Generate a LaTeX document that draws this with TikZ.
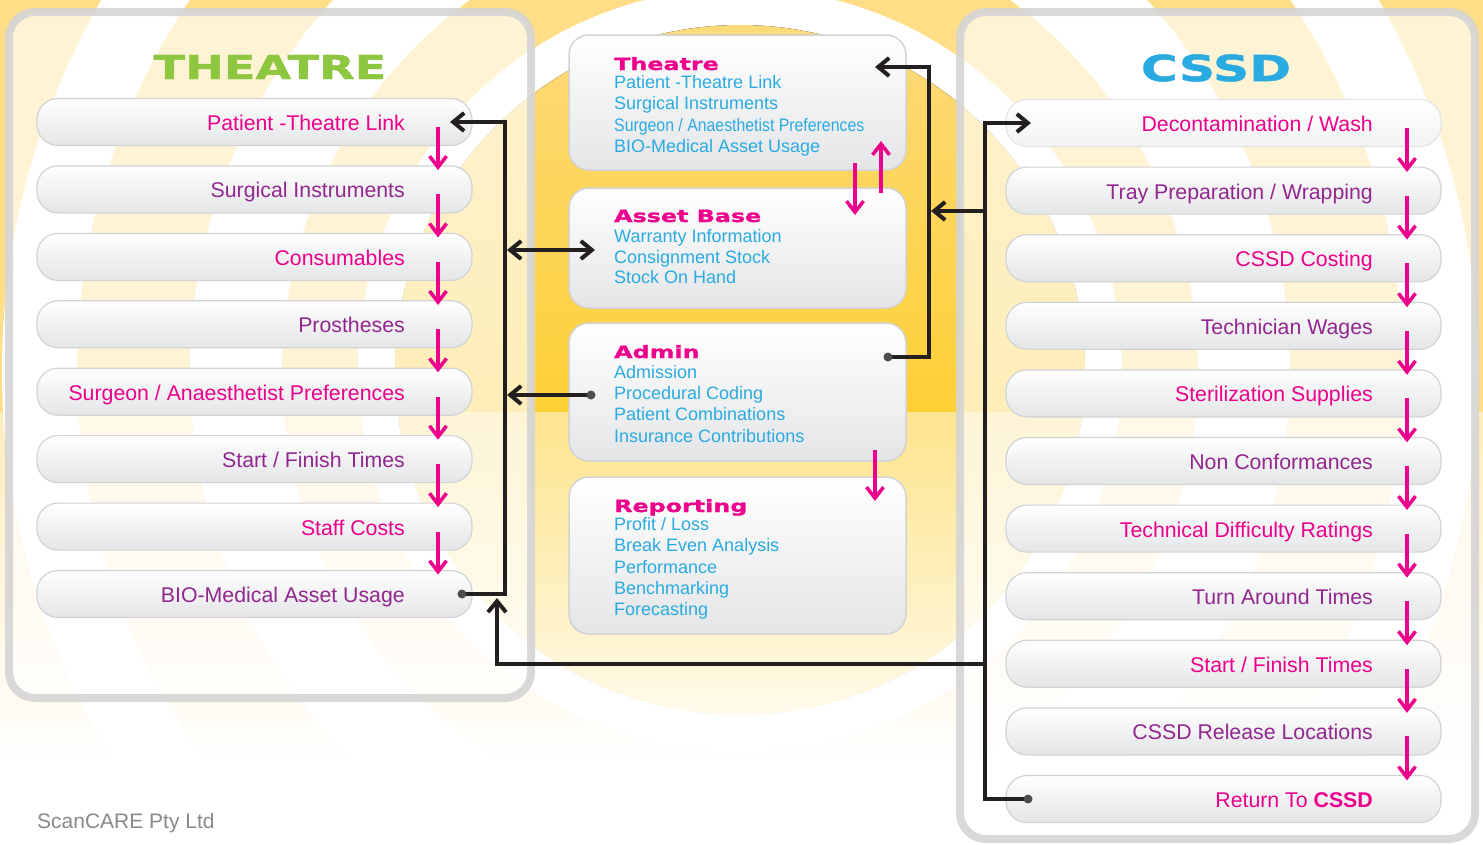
\documentclass[tikz,border=0pt]{standalone}
\usepackage{fontspec}
\setmainfont{Liberation Sans}
\newfontfamily\widefont[FakeStretch=1.4,FakeBold=1.2]{DejaVu Sans}
\usetikzlibrary{arrows.meta,fadings}
\definecolor{pinkc}{HTML}{EC008C}
\definecolor{purp}{HTML}{92278F}
\definecolor{cyanc}{HTML}{29ABE2}
\definecolor{greenc}{HTML}{8DC63F}
\definecolor{ringY}{HTML}{FFDE87}
\definecolor{goldT}{HTML}{FCDA7A}
\definecolor{goldM}{HTML}{FFCC12}
\definecolor{goldB}{HTML}{FFC800}
\definecolor{linec}{HTML}{231F20}
\definecolor{pillB}{HTML}{D1D3D4}
\definecolor{pillG}{HTML}{E4E5E7}
\definecolor{panelc}{HTML}{D5D5D5}
\definecolor{footc}{HTML}{8A8A8A}
\tikzfading[name=fadedown, top color=transparent!55, bottom color=transparent!0]
\newcommand\leftitem[4]{%
  \node[pill] (#1) at (254.5,#2) {};
  \node[itemtxt, text=#3] (#1t) at (405,#2+8.5) {#4};}
\newcommand\rightitem[4]{%
  \node[pill] (#1) at (1223.5,#2) {};
  \node[itemtxt, text=#3] (#1t) at (1373,#2+8.5) {#4};}
\newcommand\flowarrow[4]{%
  \coordinate (#1s) at (#2,#3);
  \coordinate (#1e) at (#2,#4);
  \draw[flow] (#1s) -- (#1e);}
\begin{document}
\begin{tikzpicture}[x=1pt,y=-1pt,
  pill/.style={draw=pillB, line width=1.2pt, rounded corners=21pt, minimum width=435pt, minimum height=47pt, top color=white, bottom color=pillG, inner sep=0pt},
  midbox/.style={draw=pillB, line width=1.5pt, rounded corners=20pt, minimum width=337pt, top color=white, bottom color=pillG, inner sep=0pt},
  panel/.style={draw=panelc, draw opacity=0.9, line width=8pt, fill=white, fill opacity=0.65, rounded corners=26pt},
  itemtxt/.style={anchor=base east, inner sep=0pt, font=\fontsize{21.3}{25}\selectfont},
  boxtitle/.style={anchor=base west, text=pinkc, inner sep=0pt, font=\widefont\bfseries\fontsize{17}{20}\selectfont},
  boxline/.style={anchor=base west, text=cyanc, inner sep=0pt, font=\fontsize{18}{21}\selectfont},
  flow/.style={draw=pinkc, line width=3.5pt, -{Straight Barb[length=11pt,width=17pt]}},
  conn/.style={draw=linec, line width=4pt},
  tipend/.style={-{Straight Barb[length=11pt,width=18pt]}},
  dot/.style={fill=linec!80!white},
  foottxt/.style={anchor=base west, inner sep=0pt, text=footc, font=\fontsize{21}{25}\selectfont}
]
\useasboundingbox (0,0) rectangle (1483,844);
\clip (0,0) rectangle (1483,844);
% ---------- background rings ----------
\fill[ringY] (-10,-10) rectangle (1493,854);
\coordinate (C) at (740,370);
\fill[white] (C) circle (738);
\fill[ringY] (C) circle (663);
\fill[white] (C) circle (550);
\fill[ringY] (C) circle (458);
\fill[white] (C) circle (382);
\fill[top color=goldT, middle color=goldM, bottom color=goldB] (C) circle (345);
\fill[white, path fading=fadedown] (-10,412) rectangle (1493,760);
\fill[white] (-10,759) rectangle (1493,870);
% ---------- panels ----------
\draw[panel] (9,12) rectangle (531,698);
\draw[panel] (960,12) rectangle (1475,839);
\node[font=\widefont\bfseries\fontsize{33}{36}\selectfont, text=greenc] (hTheatre) at (270,67) {THEATRE};
\node[font=\widefont\bfseries\fontsize{36}{40}\selectfont, text=cyanc] (hCSSD) at (1216,68) {CSSD};
% ---------- theatre list ----------
\leftitem{L1}{122}{pinkc}{Patient -Theatre Link}
\leftitem{L2}{189.4}{purp}{Surgical Instruments}
\leftitem{L3}{256.9}{pinkc}{Consumables}
\leftitem{L4}{324.3}{purp}{Prostheses}
\leftitem{L5}{391.7}{pinkc}{Surgeon / Anaesthetist Preferences}
\leftitem{L6}{459.1}{purp}{Start / Finish Times}
\leftitem{L7}{526.6}{pinkc}{Staff Costs}
\leftitem{L8}{594}{purp}{BIO-Medical Asset Usage}
\flowarrow{fa1}{438}{127}{170}
\flowarrow{fa2}{438}{194.4}{237.4}
\flowarrow{fa3}{438}{261.9}{304.9}
\flowarrow{fa4}{438}{329.3}{372.3}
\flowarrow{fa5}{438}{396.7}{439.7}
\flowarrow{fa6}{438}{464.1}{507.1}
\flowarrow{fa7}{438}{531.6}{574.6}
% ---------- CSSD list ----------
\node[pill, draw=pillB!60, bottom color=pillG!45] (R1) at (1223.5,123) {};
\node[itemtxt, text=pinkc] (R1t) at (1373,131.5) {Decontamination / Wash};
\rightitem{R2}{190.6}{purp}{Tray Preparation / Wrapping}
\rightitem{R3}{258.2}{pinkc}{CSSD Costing}
\rightitem{R4}{325.8}{purp}{Technician Wages}
\rightitem{R5}{393.4}{pinkc}{Sterilization Supplies}
\rightitem{R6}{461}{purp}{Non Conformances}
\rightitem{R7}{528.6}{pinkc}{Technical Difficulty Ratings}
\rightitem{R8}{596.2}{purp}{Turn Around Times}
\rightitem{R9}{663.8}{pinkc}{Start / Finish Times}
\rightitem{R10}{731.4}{purp}{CSSD Release Locations}
\rightitem{R11}{799}{pinkc}{Return To \textbf{CSSD}}
\flowarrow{fb1}{1407}{128}{172}
\flowarrow{fb2}{1407}{195.6}{239.6}
\flowarrow{fb3}{1407}{263.2}{307.2}
\flowarrow{fb4}{1407}{330.8}{374.8}
\flowarrow{fb5}{1407}{398.4}{442.4}
\flowarrow{fb6}{1407}{466}{510}
\flowarrow{fb7}{1407}{533.6}{577.6}
\flowarrow{fb8}{1407}{601.2}{645.2}
\flowarrow{fb9}{1407}{668.8}{712.8}
\flowarrow{fb10}{1407}{736.4}{780.4}
% ---------- middle boxes ----------
\node[midbox, minimum height=135pt] (mTh) at (737.5,102.5) {};
\node[midbox, minimum height=120pt] (mAB) at (737.5,248) {};
\node[midbox, minimum height=138pt] (mAd) at (737.5,392) {};
\node[midbox, minimum height=157pt] (mRe) at (737.5,555.5) {};
\node[boxtitle] (thT) at (614,70) {Theatre};
\node[boxline] (th1) at (614,88) {Patient -Theatre Link};
\node[boxline] (th2) at (614,109.5) {Surgical Instruments};
\node[boxline] (th3) at (614,131) {\scalebox{0.88}[1]{Surgeon / Anaesthetist Preferences}};
\node[boxline] (th4) at (614,152.5) {BIO-Medical Asset Usage};
\node[boxtitle] (abT) at (614,222) {Asset Base};
\node[boxline] (ab1) at (614,242) {Warranty Information};
\node[boxline] (ab2) at (614,263) {Consignment Stock};
\node[boxline] (ab3) at (614,283.5) {Stock On Hand};
\node[boxtitle] (adT) at (614,358) {Admin};
\node[boxline] (ad1) at (614,378) {Admission};
\node[boxline] (ad2) at (614,399) {Procedural Coding};
\node[boxline] (ad3) at (614,420.5) {Patient Combinations};
\node[boxline] (ad4) at (614,442) {Insurance Contributions};
\node[boxtitle] (reT) at (614,512) {Reporting};
\node[boxline] (re1) at (614,530) {Profit / Loss};
\node[boxline] (re2) at (614,551.5) {Break Even Analysis};
\node[boxline] (re3) at (614,573) {Performance};
\node[boxline] (re4) at (614,594) {Benchmarking};
\node[boxline] (re5) at (614,615.5) {Forecasting};
\flowarrow{fm1}{855}{163}{215}
\flowarrow{fm2}{881}{193}{141}
\flowarrow{fm3}{875}{450}{501}
% ---------- black connectors ----------
\coordinate (bioDot) at (462,594);
\coordinate (LT) at (505,122);
\coordinate (ptIn) at (450,122);
\coordinate (LA) at (507,250);
\coordinate (abIn) at (595,250);
\coordinate (admL) at (591,395);
\coordinate (LB) at (507,395);
\coordinate (CJ) at (985,664);
\coordinate (bioUp) at (497,598);
\coordinate (admR) at (888,357);
\coordinate (RT) at (929,67);
\coordinate (thIn) at (875,67);
\coordinate (retDot) at (1028,799);
\coordinate (CT) at (985,123);
\coordinate (decIn) at (1031,123);
\coordinate (CB) at (985,211);
\coordinate (RB) at (931,211);
\draw[conn, tipend] (bioDot) -| (LT) -- (ptIn);
\draw[conn, {Straight Barb[length=11pt,width=18pt]}-{Straight Barb[length=11pt,width=18pt]}] (LA) -- (abIn);
\draw[conn, tipend] (admL) -- (LB);
\draw[conn, tipend] (CJ) -| (bioUp);
\draw[conn, tipend] (admR) -| (RT) -- (thIn);
\draw[conn, tipend] (retDot) -| (CT) -- (decIn);
\draw[conn, tipend] (CB) -- (RB);
\fill[dot] (bioDot) circle (4.5);
\fill[dot] (admL) circle (4.5);
\fill[dot] (admR) circle (4.5);
\fill[dot] (retDot) circle (4.5);
% ---------- footer ----------
\node[foottxt] (foot) at (37,828) {ScanCARE Pty Ltd};
\end{tikzpicture}
\end{document}
